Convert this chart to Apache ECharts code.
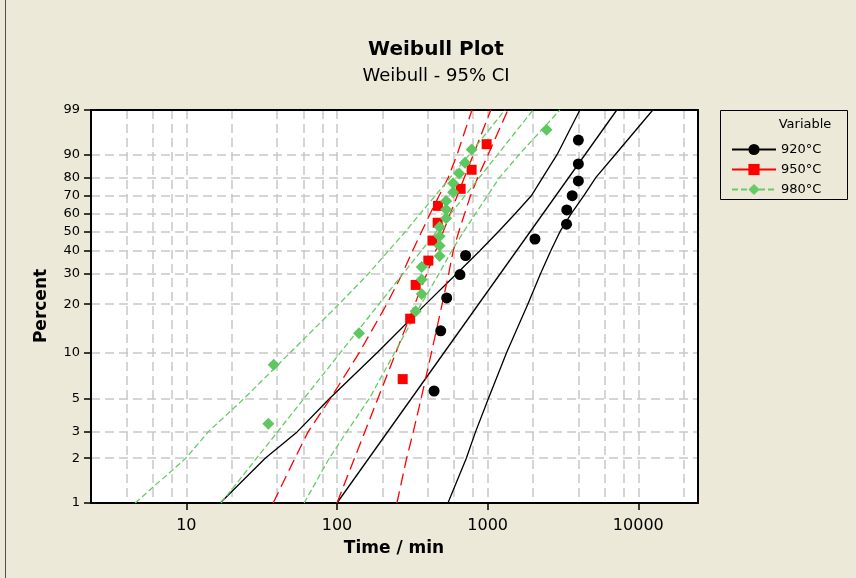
<!DOCTYPE html>
<html>
<head>
<meta charset="utf-8">
<script src="https://cdn.jsdelivr.net/npm/echarts@6/dist/echarts.min.js"></script>
<style>
html, body { margin: 0; padding: 0; background: #ECE9D8; }
#chart { width: 856px; height: 578px; }
</style>
</head>
<body>
<div id="chart"></div>
<script>
// tick marks / grid positions
const pctTicks = [1, 2, 3, 5, 10, 20, 30, 40, 50, 60, 70, 80, 90, 99];
const timeTicks = [10, 100, 1000, 10000];
const timeGrid = [4, 6, 8, 10, 20, 40, 60, 80, 100, 200, 400, 600, 800, 1000, 2000, 4000, 6000, 8000, 10000, 20000];

// observed points (time in min, percent)
const time920 = [441, 488, 535, 655, 714, 2060, 3340, 3350, 3640, 4000, 4000, 4000];
const pct920 = [5.6, 13.7, 21.8, 29.8, 37.9, 46.0, 54.0, 62.1, 70.2, 78.2, 86.3, 94.4];
const time950 = [273, 306, 333, 404, 431, 466, 468, 662, 783, 985];
const pct950 = [6.7, 16.3, 26.0, 35.6, 45.2, 54.8, 64.4, 74.0, 83.7, 93.3];
const time980 = [35, 38, 140, 333, 365, 365, 365, 480, 480, 480, 480, 530, 530, 530, 590, 590, 648, 707, 783, 2460];
const pct980 = [3.4, 8.3, 13.2, 18.1, 23.0, 27.9, 32.8, 37.7, 42.6, 47.5, 52.5, 57.4, 62.3, 67.2, 72.1, 77.0, 81.9, 86.8, 91.7, 96.6];

// fitted lines, ends at 1% and 99%
const fitPct = [1, 99];
const fit920 = [100, 7200];
const fit950 = [100, 1050];
const fit980 = [17, 2000];

// 95% CI bounds, read at the percent ticks
const ciPct = pctTicks;
const lo920 = [16.8, 33.4, 54.4, 89.3, 186, 388, 620, 885, 1181, 1527, 1943, 2323, 2894, 4094];
const hi920 = [545, 722, 831, 1012, 1339, 1847, 2239, 2620, 3025, 3589, 4330, 5233, 7039, 12480];
const lo950 = [37.7, 52.6, 64.3, 90.6, 141, 214, 271, 317, 365, 416, 475, 548, 627, 787];
const hi950 = [250, 290, 321, 362, 424, 499, 551, 590, 644, 704, 768, 860, 1008, 1363];
const lo980 = [4.58, 9.92, 13.97, 24.2, 49.2, 103, 161, 219, 285, 357, 447, 566, 755, 1302];
const hi980 = [60.5, 88.9, 116, 164, 242, 362, 474, 576, 695, 831, 994, 1201, 1620, 3016];

const font = '"DejaVu Sans", sans-serif';
const lg = t => Math.log10(t);
const wb = p => Math.log(-Math.log(1 - p / 100));
const toXY = (times, pcts) => times.map((t, i) => [lg(t), wb(pcts[i])]);

const xMin = lg(2.33), xMax = lg(24900);
const yMin = wb(1), yMax = wb(99);

const black = '#000000', red = '#FF0000', green = '#66CC66';
const gridLine = { show: true, lineStyle: { color: '#C8C8C8', width: 1.5, type: [9, 5] } };

function curve(name, times, pcts, color, dash, symbol, size) {
  return {
    name: name,
    type: 'line',
    data: toXY(times, pcts),
    symbol: symbol || 'none',
    symbolSize: size || 0,
    showSymbol: false,
    itemStyle: { color: color },
    lineStyle: { color: color, width: 1.3, type: dash },
    silent: true,
    z: 3
  };
}
function points(name, times, pcts, color, symbol, size) {
  return {
    name: name,
    type: 'scatter',
    data: toXY(times, pcts),
    symbol: symbol,
    symbolSize: size,
    itemStyle: { color: color, opacity: 1 },
    z: 5
  };
}

const option = {
  animation: false,
  backgroundColor: '#ECE9D8',
  textStyle: { fontFamily: font },
  grid: { left: 91, top: 110, right: 158, bottom: 75, show: true, backgroundColor: '#FFFFFF', borderWidth: 0 },
  xAxis: [
    {
      type: 'value', min: xMin, max: xMax, position: 'bottom',
      axisLine: { onZero: false, lineStyle: { color: black, width: 2 } },
      axisTick: { show: true, customValues: timeTicks.map(lg), length: 7, lineStyle: { color: black, width: 1.5 } },
      axisLabel: { customValues: timeTicks.map(lg), formatter: v => String(Math.round(Math.pow(10, v))),
        color: black, fontSize: 16, margin: 15 },
      splitLine: { show: false }
    },
    {
      type: 'value', min: xMin, max: xMax, position: 'top',
      axisLine: { onZero: false, lineStyle: { color: black, width: 2 } },
      axisTick: { show: false, customValues: timeGrid.map(lg) },
      axisLabel: { show: false, customValues: timeGrid.map(lg) },
      splitLine: gridLine
    }
  ],
  yAxis: [
    {
      type: 'value', min: yMin, max: yMax, position: 'left',
      axisLine: { onZero: false, lineStyle: { color: black, width: 2 } },
      axisTick: { show: true, customValues: pctTicks.map(wb), length: 7, lineStyle: { color: black, width: 1.5 } },
      axisLabel: { customValues: pctTicks.map(wb), formatter: v => String(Math.round(100 * (1 - Math.exp(-Math.exp(v))))),
        color: black, fontSize: 13, margin: 11 },
      splitLine: gridLine
    },
    {
      type: 'value', min: yMin, max: yMax, position: 'right',
      axisLine: { show: true, onZero: false, lineStyle: { color: black, width: 2 } },
      axisTick: { show: false }, axisLabel: { show: false }, splitLine: { show: false }
    }
  ],
  legend: {
    orient: 'vertical', left: 726, top: 138, itemWidth: 44, itemHeight: 14, itemGap: 7,
    textStyle: { fontFamily: font, fontSize: 13, color: black },
    data: [
      { name: '920°C' },
      { name: '950°C', lineStyle: { type: 'solid' } },
      { name: '980°C' }
    ]
  },
  graphic: [
    { type: 'line', shape: { x1: 5.5, y1: 0, x2: 5.5, y2: 578 }, style: { stroke: '#505050', lineWidth: 1 } },
    { type: 'text', x: 436, y: 50, style: { text: 'Weibull Plot', font: 'bold 20px ' + font, fill: black, textAlign: 'center', textVerticalAlign: 'middle' } },
    { type: 'text', x: 436, y: 76, style: { text: 'Weibull - 95% CI', font: '18px ' + font, fill: black, textAlign: 'center', textVerticalAlign: 'middle' } },
    { type: 'text', x: 394, y: 549, style: { text: 'Time / min', font: 'bold 17px ' + font, fill: black, textAlign: 'center', textVerticalAlign: 'middle' } },
    { type: 'text', x: 42, y: 306, rotation: Math.PI / 2, style: { text: 'Percent', font: 'bold 17px ' + font, fill: black, textAlign: 'center', textVerticalAlign: 'middle' } },
    { type: 'rect', shape: { x: 720.5, y: 110.5, width: 127, height: 89 }, style: { fill: 'none', stroke: black, lineWidth: 1 } },
    { type: 'text', x: 805, y: 125, style: { text: 'Variable', font: '13px ' + font, fill: black, textAlign: 'center', textVerticalAlign: 'middle' } }
  ],
  series: [
    curve('lo920', lo920, ciPct, black, 'solid'),
    curve('hi920', hi920, ciPct, black, 'solid'),
    curve('920°C', fit920, fitPct, black, 'solid', 'circle', 11),
    curve('lo950', lo950, ciPct, red, [12, 6]),
    curve('hi950', hi950, ciPct, red, [12, 6]),
    curve('950°C', fit950, fitPct, red, [12, 6], 'rect', 10),
    curve('lo980', lo980, ciPct, green, [6, 3]),
    curve('hi980', hi980, ciPct, green, [6, 3]),
    curve('980°C', fit980, fitPct, green, [6, 3], 'diamond', 12),
    points('pts920', time920, pct920, black, 'circle', 11),
    points('pts950', time950, pct950, red, 'rect', 10),
    points('pts980', time980, pct980, '#5FC75F', 'diamond', 12)
  ]
};

const chart = echarts.init(document.getElementById('chart'));
chart.setOption(option);
</script>
</body>
</html>
